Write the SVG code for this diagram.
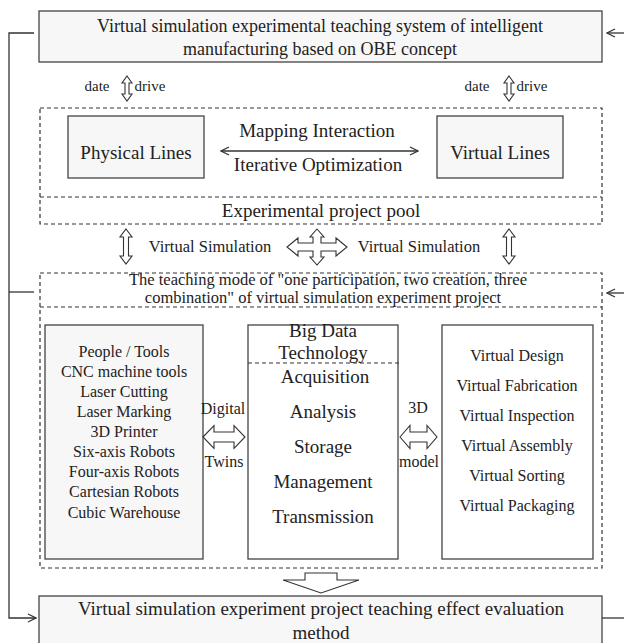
<svg xmlns="http://www.w3.org/2000/svg" width="624" height="643" viewBox="0 0 624 643">
<style>
text{font-family:"Liberation Serif","Times New Roman",serif;fill:#222;text-anchor:middle}
.box{fill:#f7f7f7;stroke:#444;stroke-width:1.3}
.wbox{fill:#fff;stroke:#444;stroke-width:1.3}
.dash{fill:none;stroke:#333;stroke-width:1.2;stroke-dasharray:4 3}
.ln{fill:none;stroke:#333;stroke-width:1.3}
.hol{fill:#fff;stroke:#333;stroke-width:1.1;stroke-linejoin:miter}
.t18{font-size:18px}.t19{font-size:19px}.t16{font-size:16px}.t165{font-size:16.5px}.t15{font-size:15px}
</style>
<defs>
<marker id="ah" viewBox="0 0 10 10" refX="9" refY="5" markerWidth="10" markerHeight="10" markerUnits="userSpaceOnUse" orient="auto-start-reverse">
<path d="M1,1 L9,5 L1,9" fill="none" stroke="#333" stroke-width="1.2"/>
</marker>
</defs>

<g id="top-box">
<rect class="box" x="39" y="11" width="563" height="51"/>
<text class="t18" x="320" y="32">Virtual simulation experimental teaching system of intelligent</text>
<text class="t18" x="320" y="55">manufacturing based on OBE concept</text>
</g>

<g id="date-drive-left">
<text class="t15" x="97" y="91">date</text>
<text class="t15" x="150" y="91">drive</text>
</g>
<g id="date-drive-right">
<text class="t15" x="477" y="91">date</text>
<text class="t15" x="532" y="91">drive</text>
</g>

<g id="lines-section">
<rect class="dash" x="40" y="108" width="562" height="116"/>
<line class="dash" x1="40" y1="197" x2="602" y2="197"/>
<g id="physical-lines">
<rect class="box" x="68" y="116" width="136" height="62"/>
<text class="t19" x="136" y="159">Physical Lines</text>
</g>
<g id="virtual-lines">
<rect class="box" x="437" y="116" width="126" height="62"/>
<text class="t19" x="500" y="159">Virtual Lines</text>
</g>
<text class="t19" x="317" y="137">Mapping Interaction</text>
<text class="t19" x="318" y="171">Iterative Optimization</text>
<g id="project-pool">
<text class="t19" x="321" y="217">Experimental project pool</text>
</g>
</g>

<g id="vs-labels">
<text class="t165" x="210" y="252">Virtual Simulation</text>
<text class="t165" x="419" y="252">Virtual Simulation</text>
</g>

<g id="teaching-section">
<rect class="dash" x="40" y="273" width="562" height="295"/>
<line class="dash" x1="40" y1="307" x2="602" y2="307"/>
<text class="t165" x="328" y="285">The teaching mode of "one participation, two creation, three</text>
<text class="t165" x="323" y="303">combination" of virtual simulation experiment project</text>
</g>

<g id="equipment-box">
<rect class="box" x="45" y="325" width="158" height="234"/>
<text class="t16" x="124" y="357">People / Tools</text>
<text class="t16" x="124" y="377">CNC machine tools</text>
<text class="t16" x="124" y="397">Laser Cutting</text>
<text class="t16" x="124" y="417">Laser Marking</text>
<text class="t16" x="124" y="437">3D Printer</text>
<text class="t16" x="124" y="457">Six-axis Robots</text>
<text class="t16" x="124" y="477">Four-axis Robots</text>
<text class="t16" x="124" y="497">Cartesian Robots</text>
<text class="t16" x="124" y="518">Cubic Warehouse</text>
</g>

<g id="big-data-box">
<rect class="wbox" x="248" y="325" width="150" height="234"/>
<text class="t19" x="323" y="337">Big Data</text>
<text class="t19" x="323" y="359">Technology</text>
<line class="dash" x1="248" y1="363" x2="400" y2="363" stroke-dasharray="3 2" stroke-width="1"/>
<text class="t19" x="325" y="383">Acquisition</text>
<text class="t19" x="323" y="418">Analysis</text>
<text class="t19" x="323" y="453">Storage</text>
<text class="t19" x="323" y="488">Management</text>
<text class="t19" x="323" y="523">Transmission</text>
</g>

<g id="virtual-box">
<rect class="wbox" x="442" y="325" width="151" height="234"/>
<text class="t16" x="517" y="361">Virtual Design</text>
<text class="t16" x="517" y="391">Virtual Fabrication</text>
<text class="t16" x="517" y="421">Virtual Inspection</text>
<text class="t16" x="517" y="451">Virtual Assembly</text>
<text class="t16" x="517" y="481">Virtual Sorting</text>
<text class="t16" x="517" y="511">Virtual Packaging</text>
</g>

<g id="twin-labels">
<text class="t16" x="223" y="414">Digital</text>
<text class="t16" x="224" y="467">Twins</text>
<text class="t16" x="418" y="413">3D</text>
<text class="t16" x="419" y="467">model</text>
</g>

<g id="evaluation-box">
<rect class="box" x="39" y="596" width="563" height="60"/>
<text class="t19" x="321" y="615">Virtual simulation experiment project teaching effect evaluation</text>
<text class="t19" x="321" y="639">method</text>
</g>

<g id="connectors">
<path class="hol" d="M127,76 L132,83 L129,83 L129,94 L132,94 L127,101 L122,94 L125,94 L125,83 L122,83 Z"/>
<path class="hol" d="M509,76 L514,83 L511,83 L511,94 L514,94 L509,101 L504,94 L507,94 L507,83 L504,83 Z"/>
<line class="ln" x1="221" y1="151" x2="418" y2="151" marker-start="url(#ah)" marker-end="url(#ah)"/>
<path class="hol" d="M126,229 L132,237 L128.5,237 L128.5,256 L132,256 L126,264 L120,256 L123.5,256 L123.5,237 L120,237 Z"/>
<path class="hol" d="M509,229 L515,237 L511.5,237 L511.5,256 L515,256 L509,264 L503,256 L506.5,256 L506.5,237 L503,237 Z"/>
<path class="hol" d="M317,229 L324,237 L321,237 L321,243 L336,243 L336,238 L347,247 L336,256 L336,251 L321,251 L321,257 L324,257 L317,265 L310,257 L313,257 L313,251 L298,251 L298,256 L287,247 L298,238 L298,243 L313,243 L313,237 L310,237 Z"/>
<path class="hol" d="M203,437 L214,425.5 L214,432 L234,432 L234,425.5 L245,437 L234,448.5 L234,442 L214,442 L214,448.5 Z"/>
<path class="hol" d="M400,437 L410,425.5 L410,432 L427,432 L427,425.5 L437,437 L427,448.5 L427,442 L410,442 L410,448.5 Z"/>
<path class="hol" d="M305,573 L337,573 L337,580 L359,580 L321,593 L283,580 L305,580 Z"/>
<path class="ln" d="M34,33 L9,33 L9,618 L36,618" marker-end="url(#ah)"/>
<line class="ln" x1="9" y1="292" x2="34" y2="292"/>
<line class="ln" x1="624" y1="33" x2="607" y2="33" marker-end="url(#ah)"/>
<line class="ln" x1="624" y1="293" x2="607" y2="293" marker-end="url(#ah)"/>
<line class="ln" x1="602" y1="618" x2="624" y2="618"/>
</g>
</svg>
